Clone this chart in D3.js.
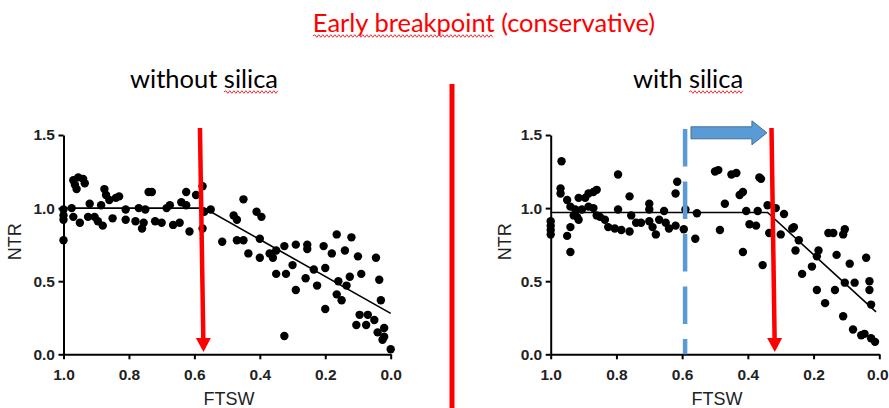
<!DOCTYPE html>
<html>
<head>
<meta charset="utf-8">
<script src="https://cdn.jsdelivr.net/npm/d3@7"></script>
<style>
  body { margin: 0; background: #fff; }
  svg { display: block; }
  .axis path, .axis line { stroke: #000; stroke-width: 2px; }
  .axis text { font-family: "Liberation Sans", Arial, sans-serif; font-weight: bold; font-size: 15.5px; fill: #222; }
  .axis-label { font-family: "Liberation Sans", Arial, sans-serif; font-size: 18px; fill: #222; }
  .title { font-family: Lato, "Open Sans", sans-serif; font-size: 25.5px; }
</style>
</head>
<body>
<div id="chart"></div>
<script>
// ---- data ----
var xTicks = [1.0, 0.8, 0.6, 0.4, 0.2, 0.0];
var yTicks = [0.0, 0.5, 1.0, 1.5];

var leftFTSW = [1.0, 1.0, 1.0, 1.0, 0.97, 0.955, 0.94, 0.935, 0.96, 0.965, 0.975, 0.97, 0.95, 0.925, 0.92,
  0.905, 0.895, 0.885, 0.88, 0.875, 0.87, 0.86, 0.85, 0.84, 0.83, 0.81, 0.81, 0.78, 0.77, 0.76, 0.755, 0.75,
  0.74, 0.73, 0.72, 0.70, 0.685, 0.675, 0.665, 0.645, 0.64, 0.625, 0.625, 0.615, 0.595, 0.575, 0.575, 0.57,
  0.55, 0.515, 0.48, 0.47, 0.47, 0.45, 0.45, 0.435, 0.41, 0.395, 0.40, 0.40, 0.37, 0.36, 0.35, 0.35, 0.325,
  0.29, 0.255, 0.255, 0.205, 0.18, 0.165, 0.12, 0.14, 0.10, 0.045, 0.32, 0.30, 0.29, 0.26, 0.235, 0.225, 0.20,
  0.20, 0.165, 0.16, 0.15, 0.135, 0.125, 0.09, 0.035, 0.03, 0.325, 0.095, 0.07, 0.105, 0.075, 0.05, 0.04,
  0.02, 0.025, 0.02, 0.0];
var leftNTR = [0.78, 0.99, 0.95, 0.92, 1.19, 1.21, 1.20, 1.17, 1.13, 1.16, 1.0, 0.94, 0.90, 0.94, 1.03,
  0.94, 0.91, 1.02, 0.88, 1.13, 1.09, 1.055, 0.93, 1.07, 1.08, 0.99, 0.92, 0.91, 1.0, 0.86, 0.90, 0.99,
  1.11, 1.11, 0.91, 0.90, 1.0, 1.02, 0.885, 0.90, 1.04, 1.11, 1.02, 0.84, 1.09, 1.15, 0.86, 0.975,
  0.99, 0.77, 0.95, 0.92, 0.78, 1.06, 0.78, 0.69, 0.975, 0.94, 0.79, 0.66, 0.69, 0.66, 0.71, 0.55, 0.74,
  0.75, 0.75, 0.72, 0.74, 0.69, 0.82, 0.80, 0.71, 0.67, 0.66, 0.55, 0.61, 0.44, 0.52, 0.58, 0.47, 0.59,
  0.31, 0.41, 0.50, 0.37, 0.47, 0.53, 0.55, 0.51, 0.37, 0.125, 0.27, 0.27, 0.20, 0.20, 0.235, 0.15,
  0.18, 0.10, 0.12, 0.035];

var rightFTSW = [1.0, 1.0, 1.0, 1.0, 0.967, 0.97, 0.97, 0.95, 0.94, 0.925, 0.92, 0.915, 0.93, 0.905, 0.915,
  0.94, 0.95, 0.94, 0.895, 0.885, 0.87, 0.86, 0.885, 0.87, 0.86, 0.85, 0.835, 0.825, 0.805, 0.795, 0.795,
  0.785, 0.76, 0.755, 0.76, 0.74, 0.725, 0.70, 0.70, 0.70, 0.69, 0.68, 0.67, 0.655, 0.65, 0.64, 0.62, 0.62,
  0.615, 0.595, 0.59, 0.555, 0.56, 0.50, 0.49, 0.485, 0.47, 0.45, 0.435, 0.425, 0.415, 0.415, 0.405, 0.395,
  0.375, 0.37, 0.365, 0.36, 0.355, 0.34, 0.335, 0.315, 0.29, 0.30, 0.265, 0.26, 0.245, 0.255, 0.235, 0.205,
  0.185, 0.19, 0.19, 0.165, 0.155, 0.14, 0.11, 0.105, 0.135, 0.13, 0.105, 0.11, 0.09, 0.075, 0.08, 0.055,
  0.045, 0.04, 0.03, 0.03, 0.025, 0.025, 0.013];
var rightNTR = [0.91, 0.88, 0.85, 0.82, 1.32, 1.135, 1.10, 1.055, 1.01, 0.99, 0.94, 0.92, 0.95, 0.99, 1.07,
  0.87, 0.81, 0.70, 1.07, 1.10, 1.11, 1.125, 1.01, 1.0, 0.95, 0.94, 0.92, 0.87, 0.86, 1.23, 0.99,
  0.85, 1.08, 0.95, 0.84, 0.90, 0.90, 1.03, 0.99, 0.91, 0.87, 0.82, 0.92, 0.98, 0.90, 0.86, 0.88, 1.10,
  1.18, 0.855, 0.99, 0.965, 0.79, 1.25, 1.26, 0.85, 1.03, 1.23, 1.24, 1.09, 1.11, 0.70, 0.98, 0.89,
  0.88, 0.98, 1.21, 1.20, 0.61, 1.02, 0.83, 1.0, 0.96, 0.82, 0.86, 0.87, 0.78, 0.71, 0.55, 0.60,
  0.71, 0.67, 0.44, 0.35, 0.83, 0.83, 0.82, 0.855, 0.44, 0.68, 0.49, 0.26, 0.62, 0.49, 0.17, 0.13,
  0.14, 0.66, 0.50, 0.44, 0.34, 0.11, 0.085];

// segmented regression fits
var leftFitFTSW = [1.0, 0.57, 0.0];
var leftFitNTR = [1.0, 1.0, 0.28];
var rightFitFTSW = [1.0, 0.34, 0.01];
var rightFitNTR = [0.97, 0.97, 0.29];

// breakpoint markers (FTSW at top / bottom of arrow)
var leftBreak = [0.583, 0.572];
var rightBreak = [0.328, 0.318];
var earlyBreak = 0.591;
var shiftArrow = [0.573, 0.342];

var width = 889, height = 408;

var svg = d3.select("#chart")
    .append("svg")
    .attr("width", width)
    .attr("height", height);

svg.append("rect").attr("width", width).attr("height", height).attr("fill", "#fff");

// wavy spell-check underline
function squiggle(x0, x1, y) {
  var p = "M" + x0 + "," + y;
  var up = true;
  for (var x = x0 + 2; x <= x1; x += 2) {
    p += "L" + x + "," + (y + (up ? -1.3 : 1.3));
    up = !up;
  }
  return p;
}

function underline(textSel, start, count, dy) {
  var node = textSel.node();
  var x0 = node.getStartPositionOfChar(start).x;
  var x1 = node.getEndPositionOfChar(start + count - 1).x;
  var y = +textSel.attr("y") + dy;
  svg.append("path")
    .attr("d", squiggle(x0, x1, y))
    .attr("fill", "none")
    .attr("stroke", "#e8323a")
    .attr("stroke-width", 1);
}

var mainTitle = svg.append("text")
    .attr("class", "title")
    .attr("x", 484)
    .attr("y", 32)
    .attr("text-anchor", "middle")
    .attr("fill", "#ff0000")
    .text("Early breakpoint (conservative)");
underline(mainTitle, 0, 16, 4);

svg.append("line")
    .attr("x1", 452).attr("x2", 452)
    .attr("y1", 84).attr("y2", height)
    .attr("stroke", "#ff0000")
    .attr("stroke-width", 5);

function drawPanel(cfg) {
  var x = d3.scaleLinear().domain([1.0, 0.0]).range([cfg.left, cfg.right]);
  var y = d3.scaleLinear().domain([0, 1.5]).range([354.3, 135]);

  var title = svg.append("text")
      .attr("class", "title")
      .attr("x", cfg.titleX)
      .attr("y", 88)
      .attr("text-anchor", "middle")
      .attr("fill", "#000")
      .text(cfg.title);
  underline(title, cfg.title.length - 6, 6, 4);

  var xAxis = svg.append("g")
      .attr("class", "axis")
      .attr("transform", "translate(0,354.3)")
      .call(d3.axisBottom(x).tickValues(xTicks).tickFormat(d3.format(".1f"))
        .tickSize(5).tickSizeOuter(0).tickPadding(10));
  // keep the last label inside the window
  xAxis.selectAll(".tick text").filter(function(d) { return d === 0 && cfg.right > 870; })
      .attr("dx", "-2");

  svg.append("g")
      .attr("class", "axis")
      .attr("transform", "translate(" + cfg.left + ",0)")
      .call(d3.axisLeft(y).tickValues(yTicks).tickFormat(d3.format(".1f"))
        .tickSize(5).tickSizeOuter(0).tickPadding(3.5));

  svg.append("text")
      .attr("class", "axis-label")
      .attr("text-anchor", "middle")
      .attr("transform", "translate(" + cfg.yLabelX + ",241.7) rotate(-90)")
      .attr("dy", "0.35em")
      .text("NTR");

  svg.append("text")
      .attr("class", "axis-label")
      .attr("text-anchor", "middle")
      .attr("x", (cfg.left + cfg.right) / 2 + 2)
      .attr("y", 405)
      .text("FTSW");

  var fit = d3.line()
      .x(function(d) { return x(d[0]); })
      .y(function(d) { return y(d[1]); });

  svg.append("path")
      .datum(d3.zip(cfg.fitX, cfg.fitY))
      .attr("d", fit)
      .attr("fill", "none")
      .attr("stroke", "#000")
      .attr("stroke-width", 1.6);

  svg.append("g")
    .selectAll("circle")
    .data(d3.zip(cfg.px, cfg.py))
    .enter()
    .append("circle")
    .attr("cx", function(d) { return x(d[0]); })
    .attr("cy", function(d) { return y(d[1]); })
    .attr("r", 4.2)
    .attr("fill", "#000");

  return { x: x, y: y };
}

function redArrow(s, ftsw) {
  var x0 = s.x(ftsw[0]), x1 = s.x(ftsw[1]);
  var yTop = s.y(1.548), yTip = s.y(0.016), yHead = yTip - 14;
  var xh = x0 + (x1 - x0) * (yHead - yTop) / (yTip - yTop);
  svg.append("line")
      .attr("x1", x0).attr("y1", yTop)
      .attr("x2", xh).attr("y2", yHead + 1)
      .attr("stroke", "#ff0000")
      .attr("stroke-width", 4.5);
  svg.append("path")
      .attr("d", "M" + (xh - 7.5) + "," + yHead + "L" + (xh + 7.5) + "," + yHead + "L" + x1 + "," + yTip + "Z")
      .attr("fill", "#ff0000");
}

var leftScales = drawPanel({
  left: 63.5, right: 390.7, yLabelX: 14.5, titleX: 204,
  title: "without silica",
  px: leftFTSW, py: leftNTR, fitX: leftFitFTSW, fitY: leftFitNTR
});
redArrow(leftScales, leftBreak);

var rightScales = drawPanel({
  left: 550.7, right: 879.3, yLabelX: 504.7, titleX: 688,
  title: "with silica",
  px: rightFTSW, py: rightNTR, fitX: rightFitFTSW, fitY: rightFitNTR
});

// early breakpoint (dashed blue) and shift arrow
svg.append("line")
    .attr("x1", rightScales.x(earlyBreak)).attr("x2", rightScales.x(earlyBreak))
    .attr("y1", rightScales.y(1.541)).attr("y2", rightScales.y(0))
    .attr("stroke", "#5b9bd5")
    .attr("stroke-width", 4.5)
    .attr("stroke-dasharray", "37.5,15");

var ax0 = rightScales.x(shiftArrow[0]), ax1 = rightScales.x(shiftArrow[1]);
var ay = rightScales.y(1.515);
svg.append("path")
    .attr("d", "M" + ax0 + "," + (ay - 6) + "L" + (ax1 - 15) + "," + (ay - 6) +
      "L" + (ax1 - 15) + "," + (ay - 12) + "L" + ax1 + "," + ay +
      "L" + (ax1 - 15) + "," + (ay + 12) + "L" + (ax1 - 15) + "," + (ay + 6) +
      "L" + ax0 + "," + (ay + 6) + "Z")
    .attr("fill", "#5b9bd5")
    .attr("stroke", "#41719c")
    .attr("stroke-width", 1);

redArrow(rightScales, rightBreak);
</script>
</body>
</html>
